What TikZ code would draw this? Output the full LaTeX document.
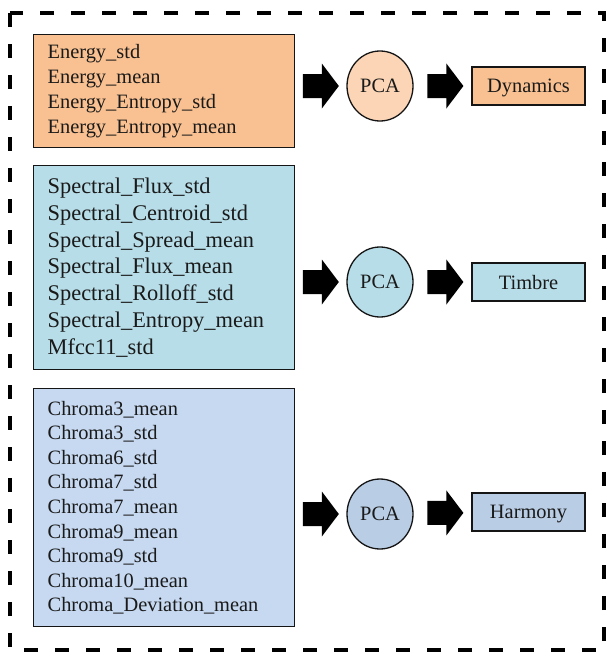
\documentclass[tikz,border=0pt]{standalone}
\usepackage{fontspec}
\setmainfont{Liberation Serif}
\usetikzlibrary{calc,shapes.geometric}
\definecolor{orbox}{HTML}{F9C191}
\definecolor{orcirc}{HTML}{FBD5B5}
\definecolor{blbox}{HTML}{B7DDE8}
\definecolor{blcirc}{HTML}{B7DDE8}
\definecolor{hbbox}{HTML}{C6D9F1}
\definecolor{hbcirc}{HTML}{B9CDE5}
\definecolor{txt}{HTML}{1A1A1A}
\definecolor{edge}{HTML}{151515}
\tikzset{
  featbox/.style={draw=edge, line width=1.3pt, minimum width=261pt, text width=233pt,
    inner xsep=14pt, align=left, anchor=north west, text=txt},
  pcacirc/.style={draw=edge, line width=1.3pt, ellipse, minimum width=66pt, minimum height=70pt,
    inner sep=0pt, text=txt, text depth=0pt, font=\fontsize{20.4}{24}\selectfont},
  outbox/.style={draw=edge, line width=1.3pt, minimum width=113pt, minimum height=38pt,
    inner sep=0pt, text=txt, text depth=0pt, font=\fontsize{20.4}{24}\selectfont},
  blockarrow/.pic={\fill[black] (-18,-12) -- (1,-12) -- (1,-22.5) -- (18,0) -- (1,22.5) -- (1,12) -- (-18,12) -- cycle;}
}
\begin{document}
\begin{tikzpicture}[x=1pt,y=-1pt]
\useasboundingbox (0,0) rectangle (607,653);
\draw[line width=4pt, dash pattern=on 14pt off 17pt] (10,13) rectangle (604,650);

% Row 1
\node[featbox, fill=orbox, minimum height=113pt, font=\fontsize{20.4}{25}\selectfont] (f1) at (33,34)
  {Energy\_std\\Energy\_mean\\Energy\_Entropy\_std\\Energy\_Entropy\_mean};
\node[pcacirc, fill=orcirc] (p1) at (380,86) {PCA};
\node[outbox, fill=orbox] (o1) at (528.5,86) {Dynamics};
\pic at ($(f1.east|-p1)!0.5!(p1.west)$) {blockarrow};
\pic at ($(p1.east)!0.55!(o1.west)$) {blockarrow};

% Row 2
\node[featbox, fill=blbox, minimum height=204pt, font=\fontsize{22.4}{26.8}\selectfont] (f2) at (33,165)
  {Spectral\_Flux\_std\\Spectral\_Centroid\_std\\Spectral\_Spread\_mean\\Spectral\_Flux\_mean\\Spectral\_Rolloff\_std\\Spectral\_Entropy\_mean\\Mfcc11\_std};
\node[pcacirc, fill=blcirc] (p2) at (380,282) {PCA};
\node[outbox, fill=blbox] (o2) at (528.5,282) {Timbre};
\pic at ($(f2.east|-p2)!0.5!(p2.west)$) {blockarrow};
\pic at ($(p2.east)!0.55!(o2.west)$) {blockarrow};

% Row 3
\node[featbox, fill=hbbox, minimum height=238pt, font=\fontsize{20.4}{24.6}\selectfont] (f3) at (33,388)
  {Chroma3\_mean\\Chroma3\_std\\Chroma6\_std\\Chroma7\_std\\Chroma7\_mean\\Chroma9\_mean\\Chroma9\_std\\Chroma10\_mean\\Chroma\_Deviation\_mean};
\node[pcacirc, fill=hbcirc] (p3) at (380,514) {PCA};
\node[outbox, fill=hbcirc] (o3) at (528.5,512) {Harmony};
\pic at ($(f3.east|-p3)!0.5!(p3.west)$) {blockarrow};
\pic at ($(p3.east)!0.55!(o3.west)$) {blockarrow};
\end{tikzpicture}
\end{document}
